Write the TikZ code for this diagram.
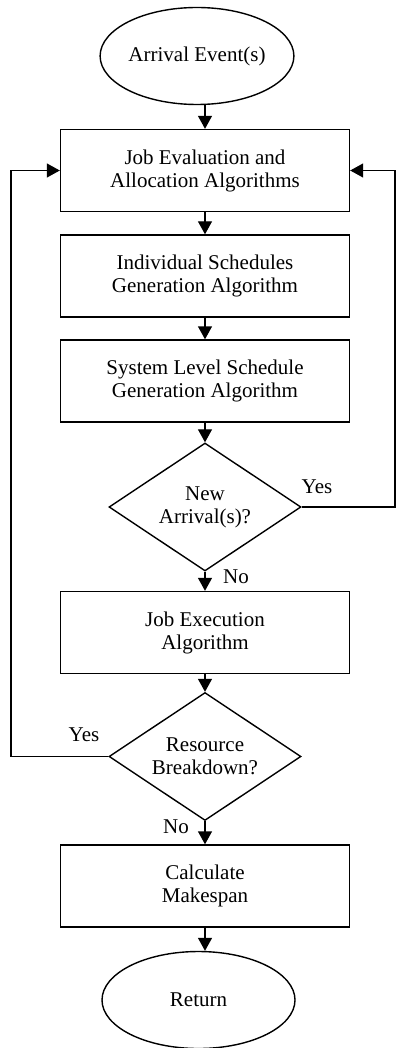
\documentclass[tikz,border=0pt]{standalone}
\usepackage{fontspec}
\setmainfont{Liberation Serif}
\usetikzlibrary{shapes.geometric,arrows.meta}
\tikzset{procbox/.style={shape=rectangle, draw, minimum width=289pt, minimum height=82pt, inner sep=0pt, align=center},
termnode/.style={shape=ellipse, draw, minimum width=193pt, minimum height=97pt, inner sep=0pt},
decnode/.style={shape=diamond, draw, minimum width=192pt, minimum height=128pt, shape aspect=1.5, inner sep=0pt, align=center},
flowarrow/.style={-{Triangle[width=14pt,length=13pt]}},
yesno/.style={inner sep=0pt}}

\begin{document}
\begin{tikzpicture}[x=1pt,y=1pt,line width=1.4pt,font=\fontsize{21}{23}\selectfont]
\useasboundingbox (0,0) rectangle (396,-1048);
\node[termnode] (arrival) at (197,-56) {Arrival Event(s)} ;
\node[procbox] (jobeval) at (205,-170.5) {Job Evaluation and\\Allocation Algorithms} ;
\node[procbox] (indsched) at (205,-276) {Individual Schedules\\Generation Algorithm} ;
\node[procbox] (syssched) at (205,-381) {System Level Schedule\\Generation Algorithm} ;
\node[decnode] (newarr) at (205,-507) {New\\Arrival(s)?} ;
\node[procbox] (jobexec) at (205,-632.5) {Job Execution\\Algorithm} ;
\node[decnode] (breakdown) at (205,-756.5) {Resource\\Breakdown?} ;
\node[procbox] (makespan) at (205,-886) {Calculate\\Makespan} ;
\node[termnode] (return) at (198.5,-1000) {Return} ;
% labels on the branches
\node[yesno] (yesright) at (317,-487) {Yes} ;
\node[yesno] (noone) at (236,-577) {No} ;
\node[yesno] (yesleft) at (84,-735) {Yes} ;
\node[yesno] (notwo) at (176,-827) {No} ;
% main flow
\draw[flowarrow] (arrival.south -| jobeval.north) -- (jobeval.north) ;
\draw[flowarrow] (jobeval) -- (indsched) ;
\draw[flowarrow] (indsched) -- (syssched) ;
\draw[flowarrow] (syssched) -- (newarr) ;
\draw[flowarrow] (newarr) -- (jobexec) ;
\draw[flowarrow] (jobexec) -- (breakdown) ;
\draw[flowarrow] (breakdown) -- (makespan) ;
\draw[flowarrow] (makespan.south) -- (makespan.south |- return.north) ;
% loops back
\coordinate (rturn) at (395,-507) ;
\coordinate (lturn) at (11,-756.5) ;
\draw[flowarrow] (newarr.east) -- (rturn) |- (jobeval.east) ;
\draw[flowarrow] (breakdown.west) -- (lturn) |- (jobeval.west) ;
\end{tikzpicture}
\end{document}
